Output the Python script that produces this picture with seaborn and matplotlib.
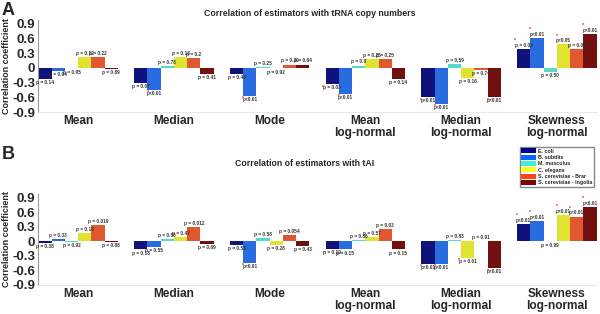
import numpy as np
import pandas as pd
import matplotlib
matplotlib.use("Agg")
import matplotlib.pyplot as plt
import seaborn as sns
from matplotlib.patches import Patch

estimators = ["Mean", "Median", "Mode", "Mean\nlog-normal", "Median\nlog-normal", "Skewness\nlog-normal"]
organisms = ["E. coli", "B. subtilis", "M. musculus", "C. elegans",
             "S. cerevisiae - Brar", "S. cerevisiae - Ingolia"]
colors = ["#00008c", "#0a64ff", "#40eede", "#ffff14", "#ff4712", "#820000"]

# panel A: correlation with tRNA copy numbers (rows = organisms, cols = estimators)
r_trna = [
    [-0.23, -0.30, -0.12, -0.33, -0.60, 0.38],
    [-0.06, -0.45, -0.57, -0.53, -0.73, 0.62],
    [-0.01, 0.04, 0.01, 0.05, 0.08, -0.08],
    [0.23, 0.22, -0.01, 0.18, -0.21, 0.48],
    [0.22, 0.21, 0.07, 0.19, -0.04, 0.38],
    [-0.02, -0.12, 0.07, -0.23, -0.60, 0.70],
]
p_trna = [
    ["0.14", "0.07", "0.43", "0.03", "<0.01", "0.02"],
    ["0.94", "<0.01", "<0.01", "<0.01", "<0.01", "<0.01"],
    ["0.95", "0.78", "0.25", "0.8", "0.59", "0.50"],
    ["0.12", "0.18", "0.92", "0.25", "0.16", "<0.01"],
    ["0.22", "0.2", "0.39", "0.25", "0.74", "0.01"],
    ["0.89", "0.41", "0.64", "0.14", "<0.01", "<0.01"],
]

# panel B: correlation with tAI
r_tai = [
    [-0.04, -0.17, -0.08, -0.16, -0.47, 0.35],
    [0.05, -0.11, -0.45, -0.17, -0.47, 0.42],
    [-0.01, 0.05, 0.07, 0.03, 0.03, -0.005],
    [0.17, 0.08, -0.08, 0.08, -0.34, 0.54],
    [0.33, 0.30, 0.12, 0.26, 0.01, 0.51],
    [-0.01, -0.06, -0.10, -0.17, -0.56, 0.71],
]
p_tai = [
    ["0.38", "0.18", "0.53", "0.19", "<0.01", "<0.01"],
    ["0.33", "0.55", "<0.01", "0.15", "<0.01", "<0.01"],
    ["0.92", "0.86", "0.58", "0.86", "0.83", "0.99"],
    ["0.18", "0.47", "0.28", "0.57", "0.01", "<0.01"],
    ["0.019", "0.012", "0.054", "0.03", "0.91", "<0.01"],
    ["0.88", "0.69", "0.43", "0.15", "<0.01", "<0.01"],
]

sns.set_style("white")
plt.rcParams["font.family"] = ["Liberation Sans", "DejaVu Sans"]
plt.rcParams["font.weight"] = "bold"


def to_df(r):
    rows = []
    for org, vals in zip(organisms, r):
        for est, v in zip(estimators, vals):
            rows.append({"estimator": est, "organism": org, "r": v})
    return pd.DataFrame(rows)


def draw_panel(ax, r, p, star_cut):
    df = to_df(r)
    sns.barplot(data=df, x="estimator", y="r", hue="organism", order=estimators,
                hue_order=organisms, palette=colors, width=0.83, linewidth=0,
                legend=False, ax=ax)
    for i, cont in enumerate(ax.containers):
        for j, bar in enumerate(cont):
            x = bar.get_x() + bar.get_width() / 2
            v = r[i][j]
            pv = p[i][j]
            txt = "p" + pv if pv.startswith("<") else "p = " + pv
            up = v >= 0
            ax.annotate(txt, (x, v), xytext=(0, 0.8 if up else -0.8), textcoords="offset points",
                        ha="center", va="bottom" if up else "top", fontsize=3.4,
                        fontweight="bold", color="#333333")
            num = float(pv.lstrip("<"))
            if num < star_cut or pv.startswith("<"):
                dx = -len(txt) * 0.95 + 1
                dy = 4.3 if up else -0.3
                ax.annotate("*", (x, v), xytext=(dx, dy), textcoords="offset points",
                            ha="center", va="bottom" if up else "top", fontsize=3.6,
                            color="#e02020")
    ax.set_xlim(-0.42, 5.42)
    ax.set_ylim(-0.9, 0.98)
    ax.set_yticks([-0.9, -0.6, -0.3, 0, 0.3, 0.6, 0.9])
    ax.set_yticklabels(["-0.9", "-0.6", "-0.3", "0", "0.3", "0.6", "0.9"])
    ax.set_xlabel("")
    ax.set_ylabel("Correlation coefficient", fontsize=6.5, fontweight="bold", labelpad=1)
    ax.tick_params(axis="y", labelsize=9.5, direction="in", length=3, color="#999999", pad=2)
    ax.tick_params(axis="x", labelsize=8.6, direction="in", length=4, color="#999999", pad=2)
    for lab in ax.get_xticklabels() + ax.get_yticklabels():
        lab.set_fontweight("bold")
        lab.set_linespacing(1.02)
    for s in ["top", "right"]:
        ax.spines[s].set_visible(False)
    ax.spines["left"].set_color("#999999")
    ax.spines["bottom"].set_color("#e4e4e4")
    ax.spines["left"].set_linewidth(0.8)
    ax.spines["bottom"].set_linewidth(0.6)


fig = plt.figure(figsize=(6, 3.14), dpi=100)
ax_a = fig.add_axes([0.0633, 0.6433, 0.9317, 0.293])
ax_b = fig.add_axes([0.0633, 0.093, 0.9317, 0.29])

draw_panel(ax_a, r_trna, p_trna, 0.05)
draw_panel(ax_b, r_tai, p_tai, 0.0101)

fig.text(310 / 600, 1 - 14 / 314, "Correlation of estimators with tRNA copy numbers",
         ha="center", va="center", fontsize=6.3, fontweight="bold")
fig.text(305 / 600, 1 - 163 / 314, "Correlation of estimators with tAI",
         ha="center", va="center", fontsize=6.3, fontweight="bold")
fig.text(2 / 600, 1 - 2 / 314, "A", ha="left", va="top", fontsize=13, fontweight="bold")
fig.text(2 / 600, 1 - 146 / 314, "B", ha="left", va="top", fontsize=13, fontweight="bold")

handles = [Patch(facecolor=c, edgecolor="none") for c in colors]
fig.legend(handles, organisms, loc="upper left", bbox_to_anchor=(517 / 600, 1 - 144 / 314),
           prop={"size": 3.8, "weight": "bold"}, handlelength=2.8, handleheight=1.0,
           labelspacing=0.22, borderpad=0.35, handletextpad=0.3, frameon=True,
           fancybox=False, edgecolor="#888888", framealpha=1)

fig.savefig("out.png", dpi=100)
